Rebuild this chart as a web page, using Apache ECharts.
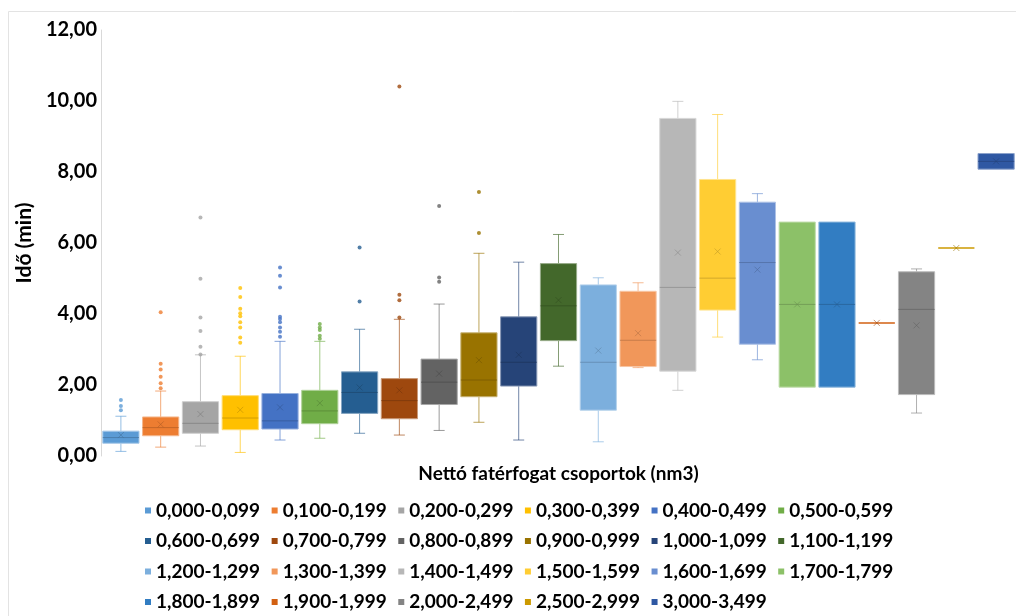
<!DOCTYPE html>
<html>
<head>
<meta charset="utf-8">
<title>Idő - nettó fatérfogat</title>
<script src="https://cdn.jsdelivr.net/npm/echarts@6/dist/echarts.min.js"></script>
<style>
  html, body { margin: 0; padding: 0; background: #fff; }
  #main { width: 1016px; height: 616px; }
</style>
</head>
<body>
<div id="main"></div>
<script>
// kategóriák (nettó fatérfogat csoportok)
var groups = ['0,000-0,099', '0,100-0,199', '0,200-0,299', '0,300-0,399', '0,400-0,499', '0,500-0,599',
  '0,600-0,699', '0,700-0,799', '0,800-0,899', '0,900-0,999', '1,000-1,099', '1,100-1,199',
  '1,200-1,299', '1,300-1,399', '1,400-1,499', '1,500-1,599', '1,600-1,699', '1,700-1,799',
  '1,800-1,899', '1,900-1,999', '2,000-2,499', '2,500-2,999', '3,000-3,499'];

// min, Q1, medián, Q3, max
var boxes = [
  [0.13, 0.36, 0.52, 0.70, 1.12],
  [0.25, 0.57, 0.80, 1.10, 1.83],
  [0.28, 0.64, 0.92, 1.53, 2.85],
  [0.10, 0.74, 1.07, 1.70, 2.81],
  [0.45, 0.76, 0.99, 1.76, 3.23],
  [0.50, 0.91, 1.27, 1.85, 3.23],
  [0.64, 1.20, 1.79, 2.37, 3.57],
  [0.59, 1.05, 1.56, 2.18, 3.85],
  [0.72, 1.45, 2.08, 2.73, 4.28],
  [0.95, 1.67, 2.14, 3.47, 5.71],
  [0.45, 1.97, 2.64, 3.92, 5.46],
  [2.53, 3.25, 4.23, 5.42, 6.24],
  [0.40, 1.29, 2.64, 4.82, 5.02],
  [2.49, 2.52, 3.26, 4.64, 4.88],
  [1.85, 2.39, 4.75, 9.51, 9.99],
  [3.35, 4.11, 5.01, 7.79, 9.62],
  [2.71, 3.15, 5.45, 7.15, 7.39],
  [1.94, 1.94, 4.27, 6.59, 6.59],
  [1.94, 1.94, 4.27, 6.59, 6.59],
  [3.75, 3.75, 3.75, 3.75, 3.75],
  [1.21, 1.73, 4.13, 5.19, 5.27],
  [5.86, 5.86, 5.86, 5.86, 5.86],
  [8.08, 8.08, 8.30, 8.52, 8.52]
];

// átlagok (x jel)
var means = [0.59, 0.89, 1.18, 1.30, 1.37, 1.49, 1.93, 1.85, 2.32, 2.70, 2.85, 4.39,
  2.97, 3.46, 5.73, 5.76, 5.25, 4.27, 4.27, 3.75, 3.68, 5.86, 8.30];

// kiugró értékek
var outliers = [
  [1.29, 1.41, 1.58],
  [1.91, 2.05, 2.23, 2.44, 2.60, 4.05],
  [2.86, 3.08, 3.52, 3.90, 4.99, 6.72],
  [3.19, 3.34, 3.62, 3.77, 3.94, 4.02, 4.15, 4.48, 4.73],
  [3.36, 3.50, 3.62, 3.77, 3.86, 3.92, 4.75, 5.08, 5.31],
  [3.30, 3.39, 3.55, 3.62, 3.72],
  [4.35, 5.87],
  [3.90, 4.39, 4.54, 10.41],
  [4.91, 5.03, 7.04],
  [6.28, 7.44],
  [], [], [], [], [], [], [], [], [], [], [], [], []
];

var colors = ['#5B9BD5', '#ED7D31', '#A5A5A5', '#FFC000', '#4472C4', '#70AD47',
  '#255E91', '#9E480E', '#636363', '#997300', '#264478', '#43682B',
  '#7CAFDD', '#F1975A', '#B7B7B7', '#FFCD33', '#698ED0', '#8CC168',
  '#327DC2', '#D26012', '#848484', '#CC9A00', '#2F58A3'];

var yTicks = [0, 2, 4, 6, 8, 10, 12];

function mix(hex, target, t) {
  var a = parseInt(hex.slice(1), 16), b = parseInt(target.slice(1), 16);
  var r = Math.round(((a >> 16) & 255) * (1 - t) + ((b >> 16) & 255) * t);
  var g = Math.round(((a >> 8) & 255) * (1 - t) + ((b >> 8) & 255) * t);
  var bl = Math.round((a & 255) * (1 - t) + (b & 255) * t);
  return 'rgb(' + r + ',' + g + ',' + bl + ')';
}

function makeRender(col) {
  var light = mix(col, '#ffffff', 0.45);
  var dark = mix(col, '#000000', 0.25);
  return function (params, api) {
    var i = api.value(0);
    var bw = api.size([1, 0])[0] * 0.91;
    var cap = 11;
    var x = api.coord([i, 0])[0];
    var yMin = api.coord([i, api.value(1)])[1];
    var yQ1 = api.coord([i, api.value(2)])[1];
    var yMed = api.coord([i, api.value(3)])[1];
    var yQ3 = api.coord([i, api.value(4)])[1];
    var yMax = api.coord([i, api.value(5)])[1];
    var yMean = api.coord([i, api.value(6)])[1];
    var kids = [];
    var wStyle = { stroke: col, lineWidth: 1, opacity: 0.65 };
    if (yMin - yQ1 > 0.5) {
      kids.push({ type: 'line', shape: { x1: x, y1: yQ1, x2: x, y2: yMin }, style: wStyle });
      kids.push({ type: 'line', shape: { x1: x - cap / 2, y1: yMin, x2: x + cap / 2, y2: yMin }, style: wStyle });
    }
    if (yQ3 - yMax > 0.5) {
      kids.push({ type: 'line', shape: { x1: x, y1: yQ3, x2: x, y2: yMax }, style: wStyle });
      kids.push({ type: 'line', shape: { x1: x - cap / 2, y1: yMax, x2: x + cap / 2, y2: yMax }, style: wStyle });
    }
    if (yQ1 - yQ3 > 0.5) {
      kids.push({ type: 'rect', shape: { x: x - bw / 2, y: yQ3, width: bw, height: yQ1 - yQ3 },
        style: { fill: col, stroke: light, lineWidth: 1 } });
      kids.push({ type: 'line', shape: { x1: x - bw / 2, y1: yMed, x2: x + bw / 2, y2: yMed },
        style: { stroke: dark, lineWidth: 1, opacity: 0.7 } });
    } else {
      kids.push({ type: 'line', shape: { x1: x - bw / 2, y1: yMed, x2: x + bw / 2, y2: yMed },
        style: { stroke: col, lineWidth: 1.5 } });
    }
    var m = 3;
    var mStyle = { stroke: dark, lineWidth: 1, opacity: 0.6 };
    kids.push({ type: 'line', shape: { x1: x - m, y1: yMean - m, x2: x + m, y2: yMean + m }, style: mStyle });
    kids.push({ type: 'line', shape: { x1: x - m, y1: yMean + m, x2: x + m, y2: yMean - m }, style: mStyle });
    return { type: 'group', children: kids };
  };
}

var series = [];
groups.forEach(function (g, i) {
  var b = boxes[i];
  series.push({
    name: g,
    type: 'custom',
    itemStyle: { color: colors[i] },
    renderItem: makeRender(colors[i]),
    encode: { x: 0, y: [1, 2, 3, 4, 5, 6] },
    data: [[i, b[0], b[1], b[2], b[3], b[4], means[i]]],
    clip: false
  });
  series.push({
    name: g,
    type: 'scatter',
    symbol: 'circle',
    symbolSize: 4,
    itemStyle: { color: colors[i] },
    data: outliers[i].map(function (v) { return [i, v]; })
  });
});

var chart = echarts.init(document.getElementById('main'));
chart.setOption({
  animation: false,
  textStyle: { fontFamily: 'Lato' },
  graphic: [{
    type: 'rect',
    shape: { x: 8.5, y: 11.5, width: 1200, height: 800 },
    style: { fill: null, stroke: '#e3e3e3', lineWidth: 1 },
    silent: true
  }],
  grid: { left: 101, top: 30, width: 925, height: 426 },
  xAxis: {
    type: 'category',
    data: groups,
    name: 'Nettó fatérfogat csoportok (nm3)',
    nameLocation: 'middle',
    nameGap: 8,
    nameTextStyle: { fontFamily: 'Lato', fontWeight: 'bold', fontSize: 19, color: '#000' },
    axisLine: { show: false },
    axisTick: { show: false },
    axisLabel: { show: false },
    splitLine: { show: false }
  },
  yAxis: {
    type: 'value',
    min: 0,
    max: 12,
    interval: 2,
    name: 'Idő (min)',
    nameLocation: 'middle',
    nameGap: 56,
    nameTextStyle: { fontFamily: 'Lato', fontWeight: 'bold', fontSize: 21, color: '#000' },
    axisLine: { show: true, lineStyle: { color: '#d9d9d9', width: 1 } },
    axisTick: { show: false },
    splitLine: { show: false },
    axisLabel: {
      margin: 4,
      fontFamily: 'Lato',
      fontWeight: 'bold',
      fontSize: 20,
      color: '#000',
      formatter: function (v) { return yTicks.indexOf(v) >= 0 ? v.toFixed(2).replace('.', ',') : ''; }
    }
  },
  legend: {
    data: groups,
    left: 140,
    top: 496,
    width: 800,
    icon: 'rect',
    itemWidth: 6,
    itemHeight: 6,
    itemGap: 11.5,
    selectedMode: false,
    textStyle: { fontFamily: 'Lato', fontWeight: 'bold', fontSize: 19, lineHeight: 19, color: '#000' }
  },
  series: series
});
</script>
</body>
</html>
